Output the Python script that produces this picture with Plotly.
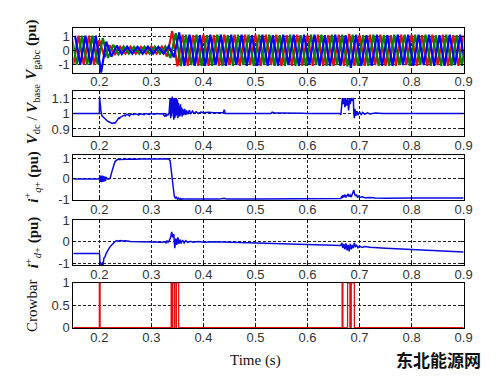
import plotly.graph_objects as go

# ---------------- data ----------------
X_TICKS = [0.2, 0.3, 0.4, 0.5, 0.6, 0.7, 0.8, 0.9]
X_TICK_TEXT = ["0.2", "0.3", "0.4", "0.5", "0.6", "0.7", "0.8", "0.9"]

# Grid voltage: peak magnitude of each half cycle (50 Hz), first peak at 0.14 s
VG_T0 = 0.14
VG_HALF = 0.01
VG_AMP_RED = [1.02, 1.02, 1.02, 1.02, 1.02, 1.02, 0.70, 0.50, 0.35, 0.28,
              0.25, 0.24, 0.25, 0.25, 0.24, 0.25, 0.25, 0.24, 0.25, 0.45,
              1.35, 1.15, 1.10, 1.10, 1.05, 1.10, 1.10, 1.10, 1.05, 1.10,
              1.10, 1.05, 1.10, 1.10, 1.10, 1.05, 1.10, 1.10, 1.10, 1.05,
              1.10, 1.10, 1.05, 1.10, 1.10, 1.10, 1.05, 1.10, 1.10, 1.10,
              1.05, 1.10, 1.10, 1.10, 1.15, 1.10, 1.05, 1.10, 1.10, 1.05,
              1.10, 1.10, 1.05, 1.10, 1.10, 1.05, 1.10, 1.10, 1.05, 1.10,
              1.10, 1.05, 1.10, 1.10, 1.05, 1.10, 1.05]
VG_AMP_GREEN = [1.02, 1.02, 1.02, 1.02, 1.02, 1.0, 0.85, 0.55, 0.38, 0.30,
                0.26, 0.25, 0.24, 0.25, 0.25, 0.24, 0.25, 0.25, 0.26, 0.55,
                1.20, 1.12, 1.10, 1.05, 1.10, 1.10, 1.05, 1.10, 1.10, 1.10,
                1.05, 1.10, 1.10, 1.05, 1.10, 1.10, 1.10, 1.05, 1.10, 1.10,
                1.05, 1.10, 1.10, 1.10, 1.05, 1.10, 1.10, 1.05, 1.10, 1.10,
                1.10, 1.05, 1.10, 1.15, 1.10, 1.10, 1.05, 1.10, 1.10, 1.10,
                1.05, 1.10, 1.10, 1.05, 1.10, 1.10, 1.10, 1.05, 1.10, 1.10,
                1.05, 1.10, 1.10, 1.10, 1.05, 1.10, 1.10]
VG_AMP_BLUE = [1.02, 1.02, 1.02, 1.02, 1.02, 1.60, 0.60, 0.45, 0.32, 0.27,
               0.25, 0.25, 0.24, 0.25, 0.25, 0.25, 0.24, 0.25, 0.28, 0.50,
               1.25, 1.10, 1.10, 1.10, 1.05, 1.10, 1.10, 1.05, 1.10, 1.10,
               1.10, 1.05, 1.10, 1.10, 1.05, 1.10, 1.10, 1.10, 1.05, 1.10,
               1.10, 1.05, 1.10, 1.10, 1.10, 1.05, 1.10, 1.10, 1.05, 1.10,
               1.10, 1.10, 1.05, 1.25, 1.10, 1.10, 1.05, 1.10, 1.10, 1.10,
               1.05, 1.10, 1.10, 1.05, 1.10, 1.10, 1.10, 1.05, 1.10, 1.10,
               1.05, 1.10, 1.10, 1.05, 1.10, 1.10, 1.05]
VG_PHASE_SHIFT = [0.0, 0.02 / 3, 0.04 / 3]

VDC_T = [0.15, 0.2, 0.2005, 0.2015, 0.203, 0.205, 0.208, 0.21, 0.213, 0.216, 0.219, 0.222,
         0.225, 0.228, 0.23, 0.232, 0.234, 0.236, 0.238, 0.2385, 0.24, 0.243, 0.246, 0.248,
         0.25, 0.253, 0.256, 0.258, 0.26, 0.262, 0.266, 0.268, 0.272, 0.276, 0.278, 0.282,
         0.286, 0.288, 0.292, 0.296, 0.298, 0.302, 0.306, 0.31, 0.314, 0.318, 0.322, 0.324,
         0.326, 0.327, 0.329, 0.33, 0.332, 0.334,
         0.336, 0.337, 0.338, 0.339, 0.340, 0.341, 0.342, 0.343, 0.344, 0.345, 0.346, 0.347,
         0.348, 0.349, 0.350, 0.351, 0.352, 0.353, 0.354, 0.355, 0.356, 0.357, 0.358, 0.359,
         0.360, 0.362, 0.364, 0.366, 0.368, 0.370, 0.373, 0.376, 0.379, 0.382, 0.386, 0.39,
         0.395, 0.40, 0.41, 0.42, 0.43, 0.438, 0.44, 0.442, 0.45, 0.53, 0.532, 0.536, 0.55,
         0.57, 0.59, 0.6, 0.663, 0.664, 0.666, 0.667, 0.669, 0.670, 0.672, 0.673, 0.675,
         0.677, 0.679, 0.681, 0.682, 0.684, 0.686, 0.688, 0.689, 0.690, 0.691, 0.693, 0.695,
         0.697, 0.70, 0.703, 0.706, 0.71, 0.715, 0.72, 0.73, 0.74, 0.745, 0.9]
VDC_V = [1.0, 1.0, 1.105, 1.06, 1.02, 0.985, 0.975, 0.965, 0.958, 0.95, 0.945, 0.94,
         0.935, 0.94, 0.938, 0.945, 0.955, 0.96, 0.975, 0.965, 0.975, 0.98, 0.985, 0.99,
         0.985, 0.995, 0.99, 0.985, 0.995, 0.997, 0.992, 0.998, 0.996, 0.99, 0.999, 0.997,
         0.992, 1.0, 0.998, 0.994, 1.0, 0.998, 0.995, 1.0, 0.998, 0.997, 1.0, 0.99,
         0.98, 0.99, 0.985, 0.995, 0.99, 1.0,
         1.10, 0.97, 1.10, 0.98, 1.11, 1.0, 1.10, 0.96, 1.10, 0.97, 1.10, 0.98,
         1.10, 0.99, 1.09, 0.97, 1.07, 0.98, 1.05, 0.98, 1.06, 0.99, 1.04, 0.98,
         1.03, 0.99, 1.03, 0.99, 1.02, 0.995, 1.02, 1.0, 1.015, 1.0, 1.012, 1.0,
         1.01, 1.005, 1.008, 1.005, 1.006, 1.005, 1.025, 1.0, 1.0, 1.0, 1.008, 1.003, 1.003,
         1.004, 1.001, 1.0, 1.0, 0.99, 1.08, 1.10, 1.06, 1.10, 1.04, 1.10, 1.05,
         1.10, 1.02, 1.10, 1.06, 1.10, 1.08, 1.10, 1.0, 0.97, 1.03, 0.985, 1.015,
         0.99, 1.01, 0.993, 1.007, 0.995, 1.004, 0.997, 1.003, 0.999, 1.0, 1.0]

IQ_T = [0.15, 0.2, 0.201, 0.202, 0.203, 0.204, 0.205, 0.206, 0.207, 0.208, 0.209, 0.210,
        0.211, 0.212, 0.213, 0.214, 0.216, 0.219, 0.221, 0.224, 0.227, 0.23, 0.233, 0.236,
        0.24, 0.245, 0.25, 0.26, 0.27, 0.28, 0.29, 0.30, 0.31, 0.32, 0.325, 0.33, 0.333,
        0.336, 0.338, 0.34, 0.342, 0.344, 0.346, 0.348, 0.35, 0.352, 0.354, 0.356, 0.358,
        0.36, 0.365, 0.37, 0.38, 0.40, 0.43, 0.44, 0.445, 0.5, 0.55, 0.57, 0.575, 0.6, 0.65,
        0.664, 0.666, 0.667, 0.668, 0.67, 0.672, 0.674, 0.676, 0.678, 0.68, 0.682, 0.684,
        0.686, 0.688, 0.689, 0.69, 0.692, 0.694, 0.696, 0.698, 0.70, 0.705, 0.71, 0.72,
        0.73, 0.75, 0.79, 0.8, 0.9]
IQ_V = [0.0, 0.0, 0.15, -0.15, 0.17, -0.16, 0.16, -0.15, 0.15, -0.14, 0.13, -0.12,
        0.11, -0.1, 0.08, 0.05, 0.0, 0.0, 0.05, 0.35, 0.65, 0.85, 0.93, 0.97,
        0.96, 0.98, 0.97, 0.99, 0.97, 0.99, 0.98, 0.99, 0.98, 0.99, 1.0, 1.02, 1.0,
        0.9, 0.4, -0.2, -0.6, -0.85, -0.95, -0.88, -1.0, -0.95, -1.02, -0.97, -1.02,
        -0.98, -1.0, -0.99, -1.0, -0.99, -1.0, -0.96, -1.0, -0.99, -0.99, -0.97, -0.99, -0.98, -0.98,
        -0.97, -0.85, -0.95, -0.8, -0.9, -0.78, -0.92, -0.82, -0.75, -0.88, -0.8, -0.9,
        -0.75, -0.65, -0.55, -0.7, -0.85, -0.78, -0.9, -0.85, -0.92, -0.88, -0.93, -0.92,
        -0.95, -0.96, -0.97, -0.95, -0.94]

ID_T = [0.15, 0.2, 0.2005, 0.201, 0.203, 0.205, 0.206, 0.207, 0.209, 0.211, 0.213, 0.215,
        0.218, 0.22, 0.222, 0.225, 0.228, 0.23, 0.233, 0.236, 0.24, 0.245, 0.25, 0.26,
        0.27, 0.28, 0.3, 0.32, 0.325, 0.328, 0.33, 0.332, 0.335, 0.337, 0.339, 0.341,
        0.343, 0.345, 0.347, 0.349, 0.351, 0.353, 0.355, 0.357, 0.36, 0.363, 0.366, 0.37,
        0.375, 0.38, 0.39, 0.4, 0.42, 0.45, 0.5, 0.55, 0.6, 0.65, 0.664, 0.666, 0.668,
        0.67, 0.672, 0.674, 0.676, 0.678, 0.68, 0.682, 0.684, 0.686, 0.688, 0.69, 0.692,
        0.694, 0.697, 0.7, 0.705, 0.71, 0.72, 0.75, 0.8, 0.85, 0.9]
ID_V = [-0.55, -0.55, -0.6, -0.9, -1.05, -1.1, -0.95, -1.08, -0.75, -0.7, -0.55, -0.45,
        -0.35, -0.25, -0.2, -0.1, -0.05, 0.0, 0.05, 0.02, 0.05, 0.03, 0.04, 0.01,
        0.0, -0.01, -0.02, -0.02, 0.0, -0.05, 0.05, -0.03, 0.08, 0.2, 0.45, 0.2,
        0.35, -0.3, 0.15, -0.15, 0.2, -0.1, 0.1, -0.08, 0.08, -0.06, 0.05, -0.03,
        0.02, -0.02, 0.01, -0.02, 0.0, -0.02, -0.06, -0.1, -0.13, -0.17, -0.18, -0.05, -0.3,
        -0.1, -0.35, -0.08, -0.4, -0.15, -0.45, -0.1, -0.35, -0.15, -0.3, -0.05, -0.25,
        -0.15, -0.28, -0.2, -0.27, -0.22, -0.26, -0.3, -0.36, -0.42, -0.48]

CROWBAR_ON = [0.2000, 0.3380, 0.3405, 0.3445, 0.3480, 0.6665, 0.6770, 0.6840]
CROWBAR_OFF = [0.2015, 0.3400, 0.3440, 0.3475, 0.3525, 0.6680, 0.6815, 0.6900]

Y_LABELS = [
    "<b><i>V</i></b><sub>gabc</sub> <b>(pu)</b>",
    "<b><i>V</i></b><sub>dc</sub> / <b><i>V</i></b><sub>base</sub>",
    "<b><i>i</i></b><sup>+</sup><sub><i>q</i>+</sub> <b>(pu)</b>",
    "<b><i>i</i></b><sup>+</sup><sub><i>d</i>+</sub> <b>(pu)</b>",
    "Crowbar",
]

# ---------------- figure ----------------
W, H = 500, 380
X_DOMAIN = [66.5 / W, 464 / W]
PANEL_PX = [(13, 60), (79, 126), (145, 192), (213, 260), (278, 325)]
Y_RANGES = [[-1.6, 1.6], [0.852, 1.145], [-1.04, 1.2], [-1.1, 1.0], [-0.008, 1.0]]
Y_TICKS = [[-1, 0, 1], [0.9, 1.0, 1.1], [-1, 0, 1], [-1, 0, 1], [0, 0.5, 1]]
Y_TICK_TEXT = [["-1", "0", "1"], ["0.9", "1", "1.1"], ["-1", "0", "1"], ["-1", "0", "1"],
               ["0", "0.5", "1"]]

BLUE = "#0a0ae0"
RED = "#e01010"
fig = go.Figure()

# panel 1: three phases drawn through their half-cycle peaks
for amp, shift, col in zip([VG_AMP_RED, VG_AMP_GREEN, VG_AMP_BLUE], VG_PHASE_SHIFT,
                           [RED, "#008000", "#0000ff"]):
    xs, ys = [], []
    for k, a in enumerate(amp):
        xs.append(VG_T0 + k * VG_HALF + shift)
        ys.append(a if k % 2 == 0 else -a)
    fig.add_trace(go.Scatter(x=xs, y=ys, mode="lines", line=dict(color=col, width=2.2),
                             xaxis="x", yaxis="y", showlegend=False))

fig.add_trace(go.Scatter(x=VDC_T, y=VDC_V, mode="lines", line=dict(color=BLUE, width=1.5),
                         xaxis="x2", yaxis="y2", showlegend=False))
fig.add_trace(go.Scatter(x=IQ_T, y=IQ_V, mode="lines", line=dict(color=BLUE, width=1.5),
                         xaxis="x3", yaxis="y3", showlegend=False))
fig.add_trace(go.Scatter(x=ID_T, y=ID_V, mode="lines", line=dict(color=BLUE, width=1.5),
                         xaxis="x4", yaxis="y4", showlegend=False))

cx, cy = [0.15], [0]
for on, off in zip(CROWBAR_ON, CROWBAR_OFF):
    cx += [on, on, off, off]
    cy += [0, 1, 1, 0]
cx.append(0.9)
cy.append(0)
fig.add_trace(go.Scatter(x=cx, y=cy, mode="lines", line=dict(color=RED, width=1.3),
                         xaxis="x5", yaxis="y5", showlegend=False))

tick_font = dict(family="Liberation Sans, Arial", size=13, color="#333333")
layout = dict(width=W, height=H, margin=dict(l=0, r=0, t=0, b=0),
              paper_bgcolor="white", plot_bgcolor="white", showlegend=False)
annotations = []
for i, (top, bot) in enumerate(PANEL_PX):
    n = "" if i == 0 else str(i + 1)
    dom = [1 - bot / H, 1 - top / H]
    layout["xaxis" + n] = dict(
        domain=X_DOMAIN, range=[0.15, 0.9], anchor="y" + n,
        tickvals=X_TICKS, ticktext=X_TICK_TEXT, tickfont=tick_font,
        ticklabelstandoff=-3,
        showline=True, linecolor="black", linewidth=1, mirror="allticks",
        ticks="inside", ticklen=3, tickcolor="black",
        showgrid=True, gridcolor="#222222", gridwidth=1, griddash="3px,2px",
        zeroline=False, layer="below traces" if i == 4 else "above traces")
    layout["yaxis" + n] = dict(
        domain=dom, range=Y_RANGES[i], anchor="x" + n,
        tickvals=Y_TICKS[i], ticktext=Y_TICK_TEXT[i], tickfont=tick_font,
        showline=True, linecolor="black", linewidth=1, mirror="allticks",
        ticks="inside", ticklen=3, tickcolor="black",
        showgrid=True, gridcolor="#222222", gridwidth=1, griddash="3px,2px",
        zeroline=False, layer="below traces" if i == 4 else "above traces")
    annotations.append(dict(
        text=Y_LABELS[i], xref="paper", yref="paper", x=25 / W, y=(dom[0] + dom[1]) / 2,
        xanchor="center", yanchor="middle", textangle=-90, showarrow=False,
        font=dict(family="Liberation Serif, Times New Roman", size=15, color="#111111")))

annotations.append(dict(text="Time (s)", xref="paper", yref="paper", x=252 / W, y=1 - 359 / H,
                        xanchor="center", yanchor="middle", showarrow=False,
                        font=dict(family="Liberation Serif, Times New Roman", size=15,
                                  color="#111111")))
annotations.append(dict(text="<b>东北能源网</b>", xref="paper", yref="paper", x=438 / W,
                        y=1 - 358 / H, xanchor="center", yanchor="middle", showarrow=False,
                        font=dict(family="Noto Sans CJK SC", size=17, color="#111111")))
layout["annotations"] = annotations
fig.update_layout(**layout)
fig.write_html("out.html")
